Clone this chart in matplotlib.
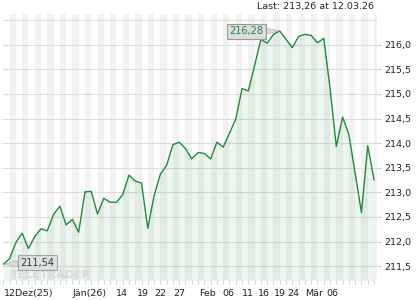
import matplotlib
matplotlib.use("Agg")
import matplotlib.pyplot as plt
import numpy as np

# closing prices, one per trading day (12.12.25 .. 12.03.26)
prices = [211.54, 211.65, 211.98, 212.17, 211.86, 212.10, 212.26, 212.22, 212.55, 212.72,
          212.34, 212.45, 212.19, 213.01, 213.02, 212.56, 212.88, 212.80, 212.80, 212.95,
          213.35, 213.23, 213.19, 212.27, 212.93, 213.37, 213.55, 213.97, 214.02, 213.89,
          213.68, 213.81, 213.79, 213.68, 214.02, 213.92, 214.20, 214.49, 215.11, 215.06,
          215.58, 216.11, 216.03, 216.21, 216.28, 216.11, 215.94, 216.17, 216.21, 216.19,
          216.04, 216.13, 215.12, 213.93, 214.53, 214.17, 213.39, 212.59, 213.95, 213.26]

x_labels = ["12Dez(25)", "Jän(26)", "14", "19", "22", "27", "Feb", "06", "11", "16",
            "19", "24", "Mär", "06"]
x_label_pos = [0.1, 11.0, 18.0, 21.2, 24.1, 27.1, 31.2, 34.9, 38.0, 40.6,
               43.0, 45.2, 48.1, 51.4]

y_ticks = [211.5, 212.0, 212.5, 213.0, 213.5, 214.0, 214.5, 215.0, 215.5, 216.0]
y_grid = y_ticks + [216.5]

line_col = '#1f8a3b'
x = np.arange(len(prices))

fig = plt.figure(figsize=(4.2, 3.0), dpi=100)
ax = fig.add_axes([0.007, 0.0667, 0.891, 0.886])

# alternating day stripes
for i in range(-1, len(prices), 2):
    ax.axvspan(i, i + 1, color='#f2f2f2', lw=0, zorder=0)

for g in y_grid:
    ax.axhline(g, color='#dddddd', lw=0.8, zorder=1)

ax.fill_between(x, prices, 211.0, color=line_col, alpha=0.08, lw=0, zorder=2)
ax.plot(x, prices, color=line_col, lw=1.0, zorder=3)

ax.set_xlim(-0.05, 59.5)
ax.set_ylim(211.22, 216.62)

ax.yaxis.tick_right()
ax.set_yticks(y_ticks)
ax.set_yticklabels([f"{v:.1f}".replace('.', ',') for v in y_ticks])
ax.tick_params(axis='y', length=3, width=0.8, color='#cccccc', pad=2,
               labelsize=6.8, labelcolor='#222222')

ax.set_xticks(x)
ax.set_xticklabels([])
ax.tick_params(axis='x', length=3, width=0.6, color='#cccccc', direction='out')
for lab, pos in zip(x_labels, x_label_pos):
    ax.text(pos, -0.035, lab, transform=ax.get_xaxis_transform(), ha='left', va='top',
            fontsize=6.8, color='#222222')

for s in ax.spines.values():
    s.set_visible(False)

ax.text(1.2, 211.33, "TELETRADER", fontsize=8, fontweight='bold', color='#d9d9d9',
        ha='left', va='center', zorder=4)

# max / min labels
imax = int(np.argmax(prices))
ax.annotate(f"{prices[imax]:.2f}".replace('.', ','), xy=(x[imax], prices[imax]),
            xytext=(x[imax] - 5.3, prices[imax] - 0.01), ha='center', va='center',
            fontsize=7, color=line_col, zorder=6,
            bbox=dict(boxstyle='square,pad=0.25', fc='#dcdcdc', ec='#999999', lw=0.8),
            arrowprops=dict(arrowstyle='wedge,tail_width=0.6', fc='#dcdcdc', ec='#bbbbbb',
                            lw=0.6, shrinkA=0, shrinkB=1))
imin = int(np.argmin(prices))
ax.annotate(f"{prices[imin]:.2f}".replace('.', ','), xy=(x[imin], prices[imin]),
            xytext=(x[imin] + 5.4, prices[imin] + 0.03), ha='center', va='center',
            fontsize=7, color='#1b4d2a', zorder=6,
            bbox=dict(boxstyle='square,pad=0.25', fc='#dcdcdc', ec='#999999', lw=0.8,
                      alpha=0.85),
            arrowprops=dict(arrowstyle='wedge,tail_width=0.6', fc='#dcdcdc', ec='#bbbbbb',
                            lw=0.6, shrinkA=0, shrinkB=1))

fig.text(374 / 420, 1 - 7 / 300, "Last: 213,26 at 12.03.26", ha='right', va='center',
         fontsize=6.8, color='#222222')

fig.savefig("out.png", dpi=100)
